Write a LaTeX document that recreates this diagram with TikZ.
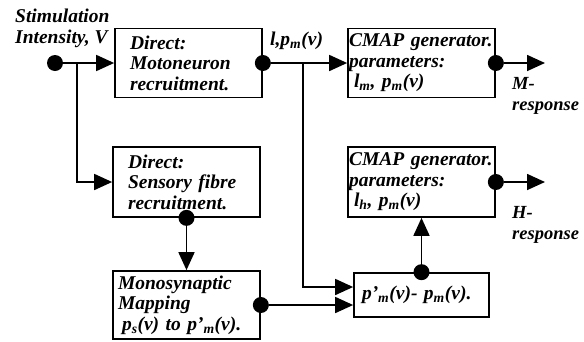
\documentclass[tikz,border=0pt]{standalone}
\usepackage{fontspec}
\setmainfont{Liberation Serif}
\usetikzlibrary{arrows.meta, calc}

\begin{document}
\begin{tikzpicture}[x=1pt, y=-1pt,
    block/.style={draw, line width=1.7pt, rectangle, minimum width=147pt, minimum height=69pt,
                  align=left, font=\bfseries\itshape\fontsize{19.5}{20.5}\selectfont},
    junction/.style={circle, fill, inner sep=0pt, minimum size=16pt},
    flow/.style={line width=1.7pt, -{Triangle[length=18pt, width=16pt]}},
    lbl/.style={font=\bfseries\itshape\fontsize{19.5}{21}\selectfont, align=left, inner sep=0pt}
  ]
  \useasboundingbox (0,0) rectangle (584,341);

  % --- blocks ---
  \node[block, text width=117pt, inner xsep=15pt] (motor) at (188.5,63)
       {Direct:\\Motoneuron\\recruitment.};
  \node[block, text width=117pt, inner xsep=15pt, minimum height=70pt] (sensory) at (186.5,182)
       {Direct:\\Sensory fibre\\recruitment.};
  \node[block, text width=137pt, inner xsep=5pt, minimum height=68pt] (mono) at (186.5,305)
       {Monosynaptic\\Mapping\\\hspace{4pt}p\textsubscript{s}(v) to p'\textsubscript{m}(v).};
  \node[block, text width=145pt, inner xsep=1pt] (cmapm) at (421.5,63)
       {CMAP generator.\\parameters:\\\hspace{5pt}l\textsubscript{m}, p\textsubscript{m}(v)};
  \node[block, text width=145pt, inner xsep=1pt, minimum height=70pt] (cmaph) at (421.5,182)
       {CMAP generator.\\parameters:\\\hspace{5pt}l\textsubscript{h}, p\textsubscript{m}(v)};
  \node[block, minimum width=135pt, minimum height=44pt, text width=119pt, inner xsep=8pt] (diff) at (421.5,295)
       {p'\textsubscript{m}(v)- p\textsubscript{m}(v).};

  % --- junction dots ---
  \node[junction] (vin) at (55,63) {};
  \node[junction] (mout) at (motor.east) {};
  \node[junction] (sout) at (sensory.south) {};
  \node[junction] (monout) at (mono.east) {};
  \node[junction] (dout) at (diff.north) {};
  \node[junction] (mresp) at (cmapm.east) {};
  \node[junction] (hresp) at (cmaph.east) {};

  \coordinate (split) at (77,63);
  \coordinate (tap) at (303,63);
  \coordinate (diffin) at ($(diff.west)+(0,-8)$);
  \coordinate (mend) at (545,63);
  \coordinate (hend) at (545,182);

  % --- connectors ---
  \draw[flow] (vin) -- (vin -| motor.west);
  \draw[flow] (split) |- (sensory.west);
  \draw[flow] (mout) -- (cmapm.west);
  \draw[flow] (tap) |- (diffin);
  \draw[flow] (sout) -- (mono.north);
  \draw[flow] (monout) -- (monout -| diff.west);
  \draw[flow] (dout) -- (cmaph.south);
  \draw[flow] (mresp) -- (mend);
  \draw[flow] (hresp) -- (hend);

  % --- labels ---
  \node[lbl, anchor=west] at (15,28) {Stimulation\\Intensity, V};
  \node[lbl, anchor=base west] at (270,45) {l,p\textsubscript{m}(v)};
  \node[lbl, anchor=west, font=\bfseries\itshape\fontsize{18.5}{21}\selectfont] at (512,96) {M-\\response};
  \node[lbl, anchor=west, font=\bfseries\itshape\fontsize{18.5}{21}\selectfont] at (512,224.5) {H-\\response};
\end{tikzpicture}
\end{document}
